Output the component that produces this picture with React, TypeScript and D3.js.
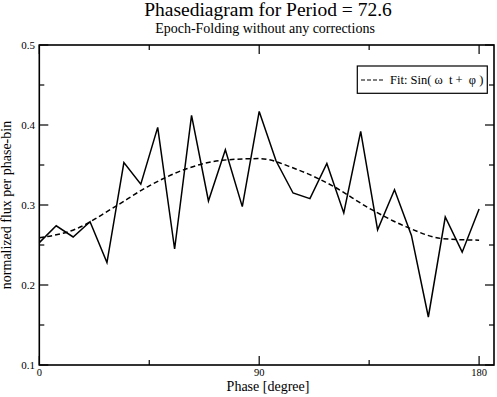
import React from "react";
import * as d3 from "d3";

const phases = [0, 6.92, 13.85, 20.77, 27.69, 34.62, 41.54, 48.46, 55.38, 62.31, 69.23, 76.15, 83.08, 90, 96.92, 103.85, 110.77, 117.69, 124.62, 131.54, 138.46, 145.38, 152.31, 159.23, 166.15, 173.08, 180];
const flux = [0.253, 0.274, 0.26, 0.279, 0.228, 0.353, 0.326, 0.397, 0.245, 0.412, 0.305, 0.369, 0.298, 0.417, 0.355, 0.315, 0.308, 0.352, 0.29, 0.392, 0.269, 0.319, 0.262, 0.16, 0.285, 0.241, 0.295];
const fitPhases = [0, 15, 30, 45, 60, 75, 90, 105, 120, 135, 150, 165, 180];
const fitValues = [0.259, 0.27, 0.296, 0.324, 0.345, 0.356, 0.358, 0.345, 0.324, 0.296, 0.273, 0.258, 0.256];
const xMajorTicks = [0, 90, 180];
const xMinorTicks = [45, 135];
const yMajorTicks = [0.1, 0.2, 0.3, 0.4, 0.5];
const yMinorTicks = [0.15, 0.25, 0.35, 0.45];

const W = 497;
const H = 397;
const L = 39.3, R = 494, T = 45, B = 365;
const FONT = "'Liberation Serif', 'DejaVu Serif', serif";

export default function App() {
  const x = d3.scaleLinear().domain([0, 186.1]).range([L, R]);
  const y = d3.scaleLinear().domain([0.1, 0.5]).range([B, T]);
  const dataLine = d3.line<number>().x((_, i) => x(phases[i])).y((d) => y(d));
  const fitLine = d3.line<number>().x((_, i) => x(fitPhases[i])).y((d) => y(d)).curve(d3.curveMonotoneX);
  const maj = 9, min = 5;
  return (
    <svg width={W} height={H} style={{ position: "absolute", left: 0, top: 0, background: "#fff" }} fontFamily={FONT}>
      <rect x={0} y={0} width={W} height={H} fill="#fff" />
      <text x={268} y={16} textAnchor="middle" fontSize={19.5}>Phasediagram for Period = 72.6</text>
      <text x={265} y={33} textAnchor="middle" fontSize={14}>Epoch-Folding without any corrections</text>
      {/* data */}
      <path d={dataLine(flux) || ""} fill="none" stroke="#000" strokeWidth={1.5} strokeLinejoin="miter" />
      <path d={fitLine(fitValues) || ""} fill="none" stroke="#000" strokeWidth={1.5} strokeDasharray="5,3" />
      {/* frame */}
      <rect x={L} y={T} width={R - L} height={B - T} fill="none" stroke="#000" strokeWidth={1.6} />
      {xMajorTicks.map((t) => (
        <g key={"xm" + t}>
          <line x1={x(t)} x2={x(t)} y1={B} y2={B - maj} stroke="#000" strokeWidth={1.2} />
          <line x1={x(t)} x2={x(t)} y1={T} y2={T + maj} stroke="#000" strokeWidth={1.2} />
          <text x={x(t)} y={376} textAnchor="middle" fontSize={10.5}>{t}</text>
        </g>
      ))}
      {xMinorTicks.map((t) => (
        <g key={"xn" + t}>
          <line x1={x(t)} x2={x(t)} y1={B} y2={B - min} stroke="#000" strokeWidth={1.2} />
          <line x1={x(t)} x2={x(t)} y1={T} y2={T + min} stroke="#000" strokeWidth={1.2} />
        </g>
      ))}
      {yMajorTicks.map((t) => (
        <g key={"ym" + t}>
          <line x1={L} x2={L + maj} y1={y(t)} y2={y(t)} stroke="#000" strokeWidth={1.2} />
          <line x1={R} x2={R - maj} y1={y(t)} y2={y(t)} stroke="#000" strokeWidth={1.2} />
          <text x={35} y={y(t) + 4} textAnchor="end" fontSize={11}>{t.toFixed(1)}</text>
        </g>
      ))}
      {yMinorTicks.map((t) => (
        <g key={"yn" + t}>
          <line x1={L} x2={L + min} y1={y(t)} y2={y(t)} stroke="#000" strokeWidth={1.2} />
          <line x1={R} x2={R - min} y1={y(t)} y2={y(t)} stroke="#000" strokeWidth={1.2} />
        </g>
      ))}
      <text x={268} y={391} textAnchor="middle" fontSize={14}>Phase [degree]</text>
      <text transform={`translate(11,205) rotate(-90)`} textAnchor="middle" fontSize={14}>normalized flux per phase-bin</text>
      {/* legend */}
      <rect x={357.3} y={66} width={130} height={27.3} fill="#fff" stroke="#000" strokeWidth={1.2} />
      <line x1={361} x2={385} y1={80} y2={80} stroke="#000" strokeWidth={1.2} strokeDasharray="4,2" />
      <text x={390} y={84} fontSize={12.5} style={{ whiteSpace: "pre" }}>Fit: Sin( ω  t +  φ )</text>
    </svg>
  );
}
